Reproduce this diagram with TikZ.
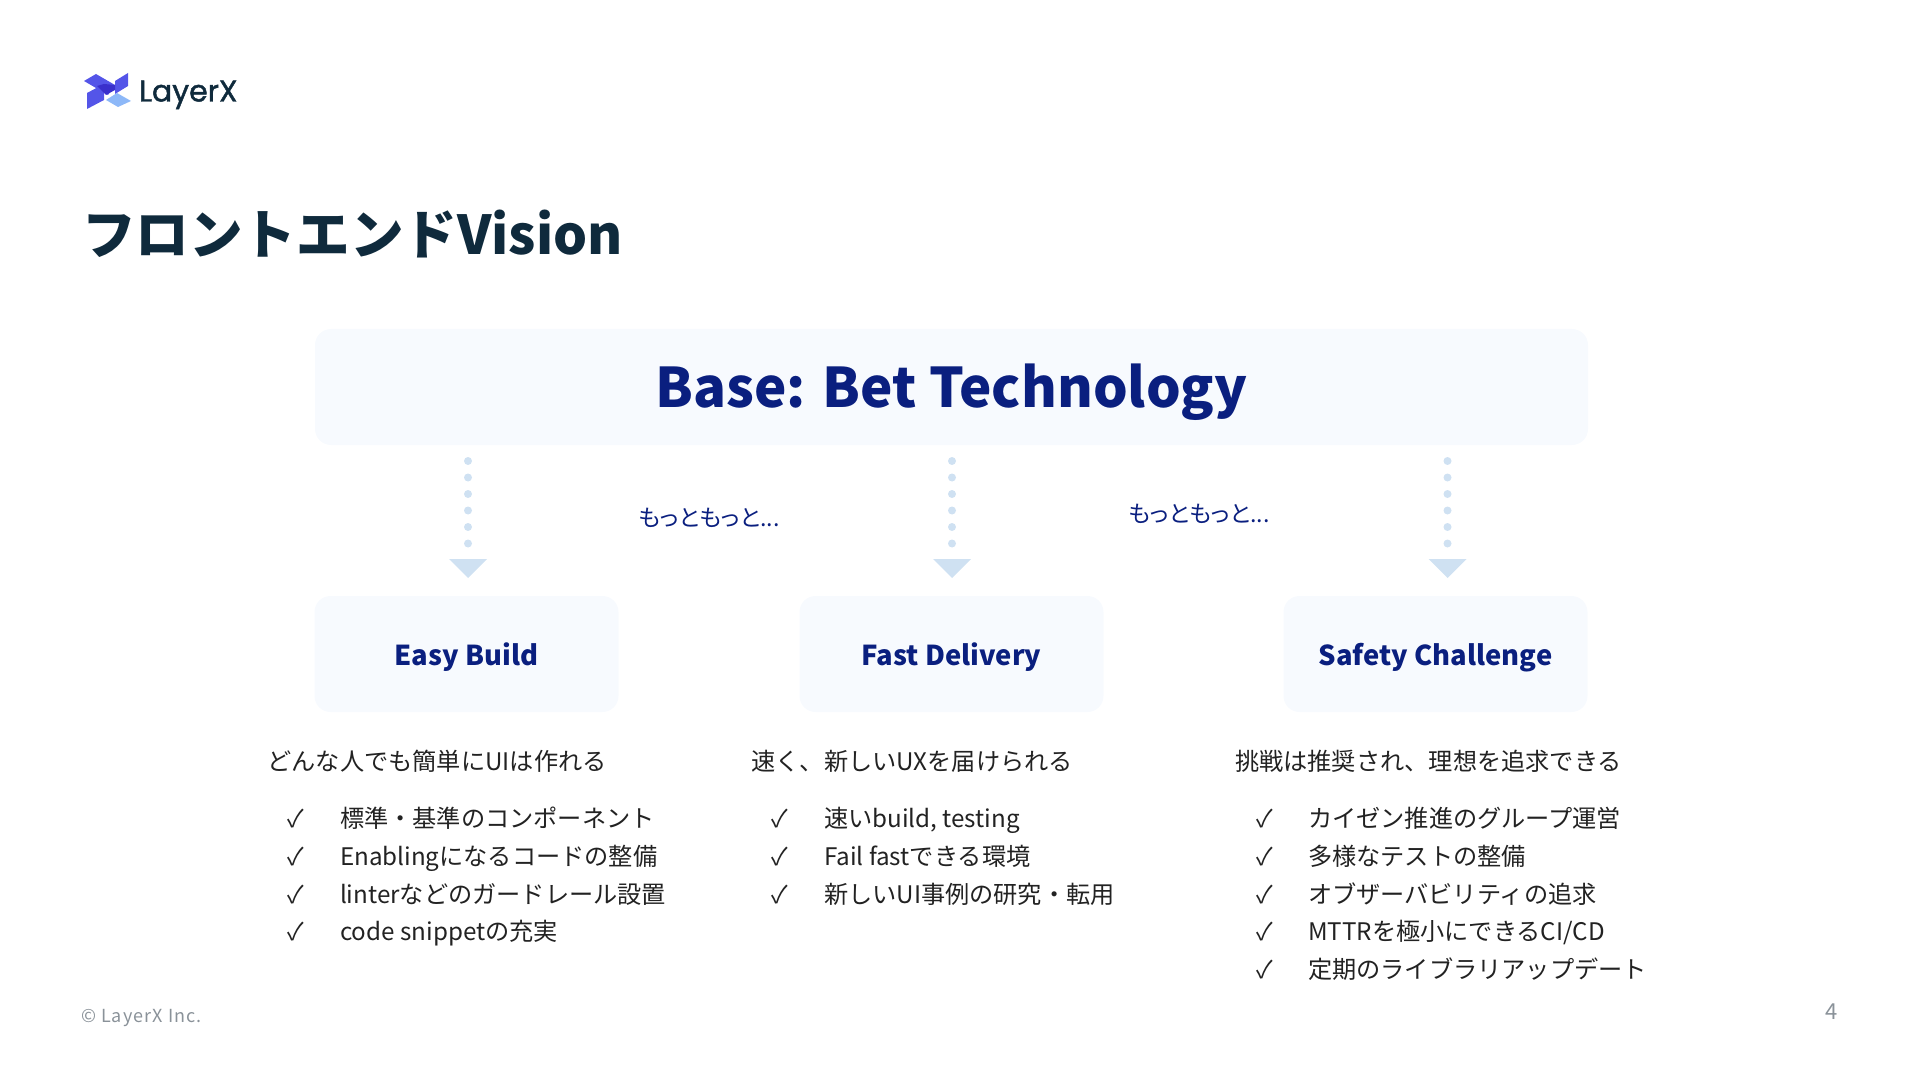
\documentclass[tikz,border=0pt]{standalone}
\usepackage{fontspec}
\setmainfont{Noto Sans CJK JP}
\newfontfamily\logofont[FakeBold=1.4]{Poppins}
\newfontfamily\moretextfont[RawFeature=+palt]{Noto Sans CJK JP}
\usetikzlibrary{arrows.meta}
\definecolor{inkdark}{HTML}{0F2A3C}
\definecolor{navy}{HTML}{0A1F7F}
\definecolor{panel}{HTML}{F7FAFE}
\definecolor{flowblue}{HTML}{CFE1F2}
\definecolor{bodyink}{HTML}{222222}
\definecolor{footgrey}{HTML}{8A9299}
\definecolor{logoblue}{HTML}{5455E8}
\definecolor{logodeep}{HTML}{3A30CC}
\definecolor{logosky}{HTML}{8DB8F8}
\begin{document}
\begin{tikzpicture}[
  x=0.5pt,y=-0.5pt,
  every node/.style={inner sep=0pt,outer sep=0pt},
  titletext/.style={anchor=west,text=inkdark,font=\fontsize{26.8}{32}\selectfont\bfseries},
  basebox/.style={fill=panel,rounded corners=8pt,minimum width=636.5pt,minimum height=58pt,text height=26pt,text depth=5.2pt,text=navy,font=\fontsize{27.3}{33}\selectfont\bfseries},
  pillarbox/.style={fill=panel,rounded corners=8pt,minimum width=152pt,minimum height=58pt,text height=14pt,text depth=3pt,text=navy,font=\fontsize{13.7}{17}\selectfont\bfseries},
  flow/.style={flowblue,line width=4pt,line cap=round,dash pattern=on 0pt off 8.25pt,-{Triangle[width=19pt,length=9.5pt,fill=flowblue,line width=0pt,round=false]}},
  moretext/.style={text=navy,font=\fontsize{11.6}{15}\moretextfont},
  leadtext/.style={anchor=base west,text=bodyink,font=\fontsize{12.1}{15}\selectfont},
  checkmark/.style={anchor=base,text=bodyink,font=\fontsize{12.1}{15}\selectfont},
  itemtext/.style={anchor=base west,text=bodyink,font=\fontsize{12.1}{15}\selectfont},
  foottext/.style={text=footgrey,font=\fontsize{9}{11}\selectfont}
]
\useasboundingbox (0,0) rectangle (1920,1080);
% logo
\fill[logoblue] (84,81) -- (96,74) -- (115,85) -- (108,95) -- cycle;
\fill[logoblue] (115,81) -- (128,73) -- (128,86) -- (115,94) -- cycle;
\fill[logoblue] (87,93) -- (104,84) -- (104,100) -- (87,109) -- cycle;
\fill[logodeep] (97,86) -- (104,84) -- (115,85) -- (115,90) -- (106,95) -- cycle;
\fill[logosky] (106,100) -- (117,93) -- (131,101) -- (118,107) -- cycle;
\node[anchor=base west,text=inkdark,font=\fontsize{15}{18}\logofont] (logoname) at (139,101.5) {LayerX};
\node[titletext] (title) at (82,234) {フロントエンドVision};

\node[basebox] (base) at (951.5,387) {Base: Bet Technology};
\node[pillarbox] (easy) at (466.5,654) {Easy Build};
\node[pillarbox] (fast) at (951.5,654) {Fast Delivery};
\node[pillarbox] (safety) at (1435.5,654) {Safety Challenge};

% arrows do not sit on the box centres
\coordinate (easytop) at (468,461);
\coordinate (easytip) at (468,578);
\coordinate (fasttop) at (952,461);
\coordinate (fasttip) at (952,578);
\coordinate (safetytop) at (1447.5,461);
\coordinate (safetytip) at (1447.5,578);
\draw[flow] (easytop) -- (easytip);
\draw[flow] (fasttop) -- (fasttip);
\draw[flow] (safetytop) -- (safetytip);
\node[moretext] (moreleft) at (709,518) {もっともっと...};
\node[moretext] (moreright) at (1199,514) {もっともっと...};

\node[leadtext] (easylead) at (267.5,770.5) {どんな人でも簡単にUIは作れる};
\foreach \item [count=\i] in {標準・基準のコンポーネント,Enablingになるコードの整備,linterなどのガードレール設置,code snippetの充実} {
  \node[checkmark] (easycheck\i) at (296,{827.6+37.7*(\i-1)}) {✓};
  \node[itemtext] (easyitem\i) at (340,{827.6+37.7*(\i-1)}) {\item};
}
\node[leadtext] (fastlead) at (751.5,770.5) {速く、新しいUXを届けられる};
\foreach \item [count=\i] in {{速いbuild, testing},Fail fastできる環境,新しいUI事例の研究・転用} {
  \node[checkmark] (fastcheck\i) at (780,{827.6+37.7*(\i-1)}) {✓};
  \node[itemtext] (fastitem\i) at (824,{827.6+37.7*(\i-1)}) {\item};
}
\node[leadtext] (safetylead) at (1235,770.5) {挑戦は推奨され、理想を追求できる};
\foreach \item [count=\i] in {カイゼン推進のグループ運営,多様なテストの整備,オブザーバビリティの追求,MTTRを極小にできるCI/CD,定期のライブラリアップデート} {
  \node[checkmark] (safetycheck\i) at (1264.5,{827.6+37.7*(\i-1)}) {✓};
  \node[itemtext] (safetyitem\i) at (1308,{827.6+37.7*(\i-1)}) {\item};
}

\node[foottext,anchor=west] (copyright) at (81,1018) {\addfontfeature{LetterSpace=6}© LayerX Inc.};
\node[foottext,font=\fontsize{11}{13}\selectfont] (pagenum) at (1832,1012) {4};
\end{tikzpicture}
\end{document}
